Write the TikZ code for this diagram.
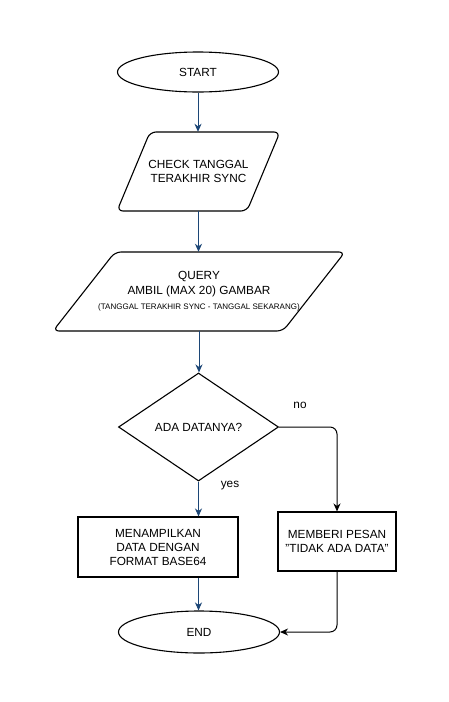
\documentclass[tikz,border=0pt]{standalone}
\usepackage{fontspec}
\setmainfont{Liberation Sans}
\usetikzlibrary{shapes.geometric,arrows.meta}
\definecolor{flowblue}{RGB}{28,70,118}
\begin{document}
\begin{tikzpicture}[x=1pt,y=-1pt,
  font=\fontsize{11.8}{14}\selectfont,
  every node/.style={align=center, inner sep=0pt},
  shapeline/.style={draw=black, line width=1.1pt},
  term/.style={shapeline, ellipse, minimum width=161pt, minimum height=40pt},
  proc/.style={shapeline, rectangle},
  dec/.style={shapeline, diamond, minimum width=160pt, minimum height=108pt},
  iobox/.style={rectangle, minimum height=79pt, minimum width=100pt},
  tipstyle/.style={-{Stealth[length=8pt,width=7pt,inset=2.5pt]}},
  blueflow/.style={draw=flowblue, line width=1pt, tipstyle},
  blackflow/.style={draw=black, line width=1pt, rounded corners=7pt, tipstyle},
  lbl/.style={font=\fontsize{11.8}{14}\selectfont}
]
\useasboundingbox[fill=white] (0,0) rectangle (448,702);

% terminals
\node[term] (start) at (198,72) {START};
\node[term, minimum height=42pt] (endn) at (199,632) {END};

% parallelogram 1
\draw[shapeline, rounded corners=6pt] (150,132) -- (280,132) -- (247,211) -- (117,211) -- cycle;
\node[iobox] (check) at (198.5,171.5) {CHECK TANGGAL\\TERAKHIR SYNC};

% parallelogram 2
\draw[shapeline, rounded corners=6pt] (115,252) -- (345,252) -- (283,331) -- (53,331) -- cycle;
\node[iobox, font=\fontsize{11.8}{15}\selectfont] (query) at (199,291.5) {QUERY\\AMBIL (MAX 20) GAMBAR\\{\fontsize{8}{15}\selectfont (TANGGAL TERAKHIR SYNC - TANGGAL SEKARANG)}};

% decision
\node[dec] (dec) at (198.5,427) {ADA DATANYA?};

% process boxes
\node[proc, minimum width=160pt, minimum height=60pt] (show) at (158,547) {MENAMPILKAN\\DATA DENGAN\\FORMAT BASE64};
\node[proc, minimum width=118pt, minimum height=59pt] (msg) at (337,541.5) {MEMBERI PESAN\\"TIDAK ADA DATA"};

% labels
\node[lbl] (no) at (300,405) {no};
\node[lbl] (yes) at (230,486) {yes};

% connectors
\draw[blueflow] (start.south) -- (start.south |- check.north);
\draw[blueflow] (check.south) -- (check.south |- query.north);
\draw[blueflow] (query.south) -- (query.south |- dec.north);
\draw[blueflow] (dec.south) -- (dec.south |- show.north);
\draw[blueflow] (dec.south |- show.south) -- (dec.south |- endn.north);
\draw[blackflow] (dec.east) -| (msg.north);
\draw[blackflow] (msg.south) |- (endn.east);
\end{tikzpicture}
\end{document}
